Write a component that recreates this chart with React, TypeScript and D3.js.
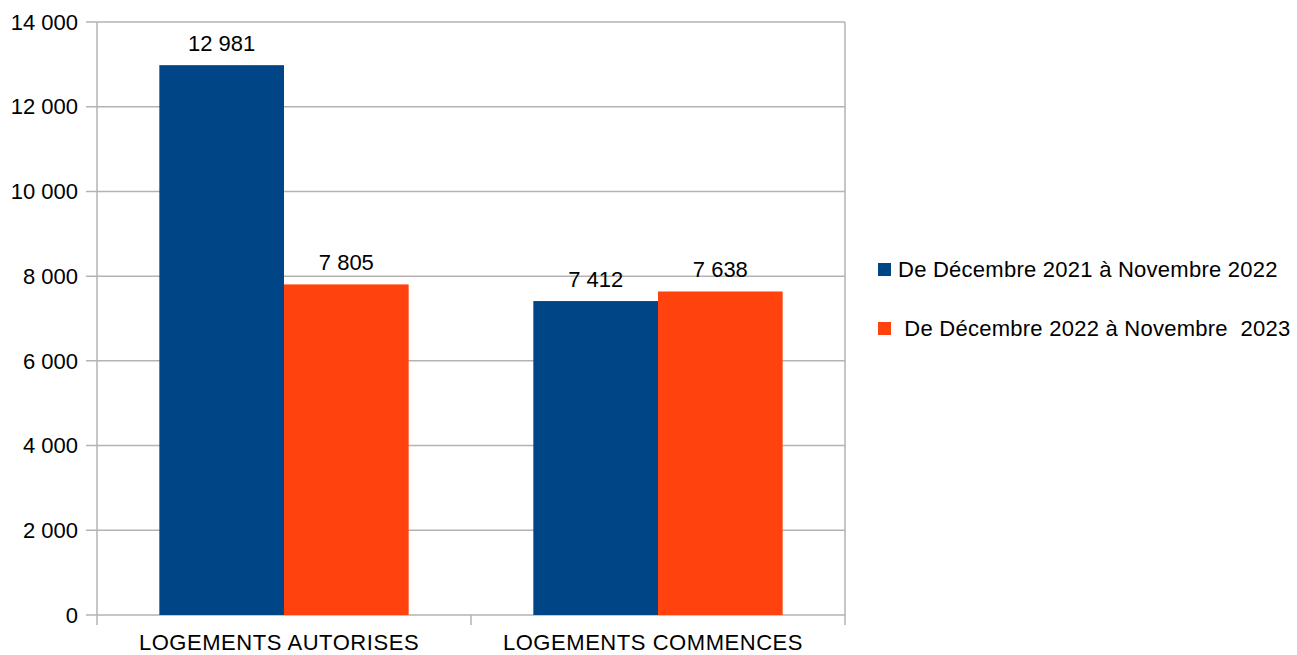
import React, { useEffect, useRef } from "react";
import * as d3 from "d3";

const categories = ["LOGEMENTS AUTORISES", "LOGEMENTS COMMENCES"];
const seriesNames = ["De Décembre 2021 à Novembre 2022", " De Décembre 2022 à Novembre  2023"];
const series2022 = [12981, 7412];
const series2023 = [7805, 7638];
const yTicks = [0, 2000, 4000, 6000, 8000, 10000, 12000, 14000];
const colors = ["#004586", "#ff420e"];

const App = () => {
  const svgRef = useRef<SVGSVGElement>(null);

  useEffect(() => {
    const width = 1297,
      height = 655;
    const margin = { top: 22, left: 97, right: 452, bottom: 40 };
    const plotW = width - margin.left - margin.right;
    const plotH = height - margin.top - margin.bottom;

    const svgAux = d3.select(svgRef.current);
    svgAux.selectAll("*").remove();
    const svg = svgAux
      .attr("width", width)
      .attr("height", height)
      .append("g")
      .attr("transform", `translate(${margin.left},${margin.top})`);

    const font = "'Liberation Sans', Arial, sans-serif";
    const fs = 22;
    const fmt = (v: number) => d3.format(",")(v).replace(/,/g, " ");

    const x0 = d3.scaleBand().domain(categories).range([0, plotW]);
    const x1 = d3
      .scaleBand()
      .domain(["0", "1"])
      .range([0, x0.bandwidth()])
      .paddingOuter(0.5)
      .paddingInner(0);
    const y = d3.scaleLinear([0, 14000], [plotH, 0]);

    // grid + y ticks
    svg
      .selectAll(".grid")
      .data(yTicks)
      .join("line")
      .attr("x1", -11)
      .attr("x2", plotW)
      .attr("y1", (d) => y(d))
      .attr("y2", (d) => y(d))
      .attr("stroke", "#b3b3b3")
      .attr("stroke-width", 1.5);

    svg
      .selectAll(".ylab")
      .data(yTicks)
      .join("text")
      .attr("x", -19)
      .attr("y", (d) => y(d))
      .attr("dy", "0.35em")
      .attr("text-anchor", "end")
      .attr("font-family", font)
      .attr("font-size", fs)
      .attr("fill", "#000")
      .text((d) => fmt(d));

    // vertical frame + x ticks
    [0, plotW].forEach((xx) => {
      svg
        .append("line")
        .attr("x1", xx)
        .attr("x2", xx)
        .attr("y1", 0)
        .attr("y2", plotH + 10)
        .attr("stroke", "#b3b3b3")
        .attr("stroke-width", 1.5);
    });
    svg
      .append("line")
      .attr("x1", x0.bandwidth())
      .attr("x2", x0.bandwidth())
      .attr("y1", plotH)
      .attr("y2", plotH + 10)
      .attr("stroke", "#b3b3b3")
      .attr("stroke-width", 1.5);

    const rows = categories.map((c, i) => ({ c, vals: [series2022[i], series2023[i]] }));

    const groups = svg
      .selectAll(".cat")
      .data(rows)
      .join("g")
      .attr("transform", (d) => `translate(${x0(d.c)},0)`);

    groups
      .selectAll("rect")
      .data((d) => d.vals.map((v, k) => ({ v, k })))
      .join("rect")
      .attr("x", (d) => x1(String(d.k))!)
      .attr("width", x1.bandwidth())
      .attr("y", (d) => y(d.v))
      .attr("height", (d) => plotH - y(d.v))
      .attr("fill", (d) => colors[d.k]);

    groups
      .selectAll(".val")
      .data((d) => d.vals.map((v, k) => ({ v, k })))
      .join("text")
      .attr("x", (d) => x1(String(d.k))! + x1.bandwidth() / 2)
      .attr("y", (d) => y(d.v) - 14)
      .attr("text-anchor", "middle")
      .attr("font-family", font)
      .attr("font-size", fs)
      .attr("fill", "#000")
      .text((d) => fmt(d.v));

    svg
      .selectAll(".xlab")
      .data(categories)
      .join("text")
      .attr("x", (d) => x0(d)! + x0.bandwidth() / 2 - 5)
      .attr("y", plotH + 35)
      .attr("text-anchor", "middle")
      .attr("font-family", font)
      .attr("font-size", fs)
      .attr("letter-spacing", 0.55)
      .attr("fill", "#000")
      .text((d) => d);

    // legend
    const legend = d3.select(svgRef.current).append("g");
    const legY = [277, 336];
    seriesNames.forEach((name, i) => {
      legend
        .append("rect")
        .attr("x", 878)
        .attr("y", legY[i] - 14)
        .attr("width", 13)
        .attr("height", 13)
        .attr("fill", colors[i]);
      legend
        .append("text")
        .attr("x", 898)
        .attr("y", legY[i])
        .attr("font-family", font)
        .attr("font-size", fs)
        .attr("letter-spacing", 0.25)
        .attr("fill", "#000")
        .attr("xml:space", "preserve")
        .style("white-space", "pre")
        .text(name);
    });
  }, []);

  return (
    <div style={{ position: "absolute", left: 0, top: 0 }}>
      <svg ref={svgRef}></svg>
    </div>
  );
};

export default App;
